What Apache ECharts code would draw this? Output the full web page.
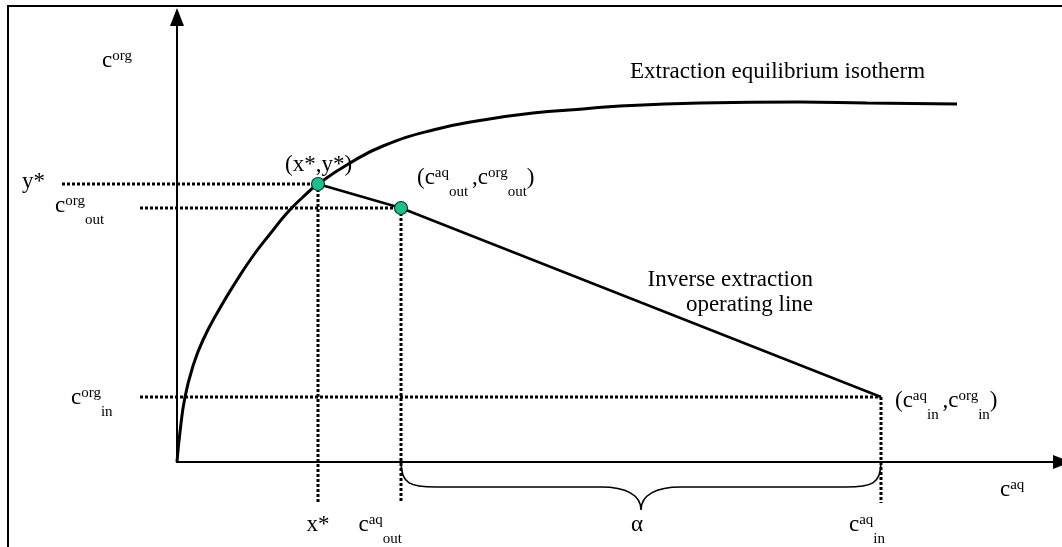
<!DOCTYPE html>
<html><head><meta charset="utf-8">
<script src="https://cdn.jsdelivr.net/npm/echarts@6/dist/echarts.min.js"></script>
<style>html,body{margin:0;padding:0;background:#fff}#c{width:1062px;height:547px}</style>
</head><body><div id="c"></div>
<script>
// ---------- data (schematic units) ----------
const isothermAq  = [0, 3, 8, 16, 26, 43, 60, 76, 93, 110, 126, 141, 173, 206, 256, 306, 356, 406, 443, 523, 623, 690, 780];
const isothermOrg = [0, 30, 65, 96, 122, 154, 182, 206, 228, 249, 265, 278, 299, 316, 332, 342, 349, 353, 356, 359, 360, 359, 358];
const operatingAq  = [141, 224, 704];   // x*, c_aq_out, c_aq_in
const operatingOrg = [278, 254, 65];    // y*, c_org_out, c_org_in
const guideLeftEnd = [-115, -37, -37];  // where the dotted horizontal guides start
const guideBottomEnd = -41;             // where the dotted vertical guides end
const axisRange = [885, 445];           // x max, y max
// ---------- texts ----------
const axisNames   = ['c{sup|org}', 'c{sup|aq}'];
const leftLabels  = ['y*', 'c{sup|org}{sub|out}', 'c{sup|org}{sub|in}'];
const bottomLabels = ['x*', 'c{sup|aq}{sub|out}', 'α', 'c{sup|aq}{sub|in}'];
const pointLabels = ['(x*,y*)', '(c{sup|aq}{sub|out },c{sup|org}{sub|out})', '(c{sup|aq}{sub|in },c{sup|org}{sub|in})'];
const curveNames  = ['Extraction equilibrium isotherm', 'Inverse extraction\noperating line'];

const FONT = '"Liberation Serif", "Times New Roman", serif';
const xStar = operatingAq[0], yStar = operatingOrg[0];
const cOutAq = operatingAq[1], cOutOrg = operatingOrg[1];
const cInAq = operatingAq[2], cInOrg = operatingOrg[2];

const chart = echarts.init(document.getElementById('c'), null, {renderer: 'canvas'});

// dotted guide segments [x1, y1, x2, y2] built from the key points
const guideRows = [];
for (let i = 0; i < 3; i++) {
  guideRows.push([guideLeftEnd[i], operatingOrg[i], operatingAq[i], operatingOrg[i]]);
  guideRows.push([operatingAq[i], operatingOrg[i], operatingAq[i], guideBottomEnd]);
}

const option = {
  animation: false,
  backgroundColor: '#fff',
  grid: {left: 177, right: 0, top: 17, bottom: 85},
  xAxis: {
    type: 'value', min: 0, max: axisRange[0],
    axisLine: {show: true, onZero: true, symbol: ['none', 'triangle'], symbolSize: [14, 18],
      lineStyle: {color: '#000', width: 2}},
    axisTick: {show: false}, axisLabel: {show: false}, splitLine: {show: false}
  },
  yAxis: {
    type: 'value', min: 0, max: axisRange[1],
    axisLine: {show: true, onZero: true, symbol: ['none', 'triangle'], symbolSize: [14, 18],
      lineStyle: {color: '#000', width: 2}},
    axisTick: {show: false}, axisLabel: {show: false}, splitLine: {show: false}
  },
  series: [
    {
      name: curveNames[0], type: 'line', silent: true, symbol: 'none', smooth: 0.5, z: 2,
      lineStyle: {color: '#000', width: 3},
      data: isothermAq.map((x, i) => [x, isothermOrg[i]])
    },
    {
      name: curveNames[1], type: 'line', silent: true, symbol: 'none', z: 2,
      lineStyle: {color: '#000', width: 2.5},
      data: operatingAq.map((x, i) => [x, operatingOrg[i]])
    },
    {
      type: 'custom', silent: true, clip: false, z: 3,
      encode: {x: [0, 2], y: [1, 3]},
      data: guideRows,
      renderItem: function (params, api) {
        const a = api.coord([api.value(0), api.value(1)]);
        const b = api.coord([api.value(2), api.value(3)]);
        return {
          type: 'line',
          shape: {x1: Math.round(a[0]), y1: Math.round(a[1]), x2: Math.round(b[0]), y2: Math.round(b[1])},
          style: {stroke: '#000', lineWidth: 3, lineDash: [3, 2], lineCap: 'butt'}
        };
      }
    },
    {
      type: 'custom', silent: true, clip: false, z: 2,
      encode: {x: [0, 1]},
      data: [[cOutAq, cInAq]],
      renderItem: function (params, api) {
        const p0 = api.coord([api.value(0), 0]);
        const p1 = api.coord([api.value(1), 0]);
        const x0 = p0[0], y0 = p0[1], x1 = p1[0], xm = (x0 + x1) / 2;
        const d1 = 25, d2 = 48;
        const path = 'M' + x0 + ',' + y0 +
          ' C' + x0 + ',' + (y0 + d1 * 0.9) + ' ' + (x0 + 10) + ',' + (y0 + d1) + ' ' + (x0 + 35) + ',' + (y0 + d1) +
          ' L' + (xm - 40) + ',' + (y0 + d1) +
          ' C' + (xm - 15) + ',' + (y0 + d1) + ' ' + xm + ',' + (y0 + d1 + 8) + ' ' + xm + ',' + (y0 + d2) +
          ' C' + xm + ',' + (y0 + d1 + 8) + ' ' + (xm + 15) + ',' + (y0 + d1) + ' ' + (xm + 40) + ',' + (y0 + d1) +
          ' L' + (x1 - 35) + ',' + (y0 + d1) +
          ' C' + (x1 - 10) + ',' + (y0 + d1) + ' ' + x1 + ',' + (y0 + d1 * 0.9) + ' ' + x1 + ',' + y0;
        return {type: 'path', shape: {pathData: path}, style: {fill: 'none', stroke: '#000', lineWidth: 1.6}};
      }
    },
    {
      type: 'scatter', silent: true, z: 5, symbolSize: 13,
      itemStyle: {color: '#1DBF8E', borderColor: '#0d3b2b', borderWidth: 1.2, opacity: 1},
      data: [[xStar, yStar], [cOutAq, cOutOrg]]
    }
  ]
};
chart.setOption(option);

// ---------- text annotations, anchored through the chart's own scales ----------
const rich = {
  sup: {fontSize: 15, fontFamily: FONT, fill: '#000', verticalAlign: 'top', padding: [9, 0, 0, 0]},
  sub: {fontSize: 15, fontFamily: FONT, fill: '#000', verticalAlign: 'bottom'}
};
function txt(text, at, off, align, lineHeight) {
  const p = chart.convertToPixel({gridIndex: 0}, at);
  return {
    type: 'text', silent: true, z: 10,
    x: p[0] + off[0], y: p[1] + off[1],
    style: {
      text: text, fill: '#000', fontSize: 23, fontFamily: FONT,
      lineHeight: lineHeight || 43, align: align, verticalAlign: 'middle', rich: rich
    }
  };
}
const graphics = [
  {type: 'rect', silent: true, z: -10, shape: {x: 8, y: 6, width: 1200, height: 700},
   style: {fill: 'none', stroke: '#000', lineWidth: 2}},
  txt(axisNames[0], [0, axisRange[1]], [-75, 44], 'left'),
  txt(axisNames[1], [axisRange[0], 0], [-62, 28], 'left'),
  txt(leftLabels[0], [0, yStar], [-155, -2], 'left'),
  txt(leftLabels[1], [0, cOutOrg], [-122, -2], 'left'),
  txt(leftLabels[2], [0, cInOrg], [-106, 1], 'left'),
  txt(bottomLabels[0], [xStar, 0], [0, 63], 'center'),
  txt(bottomLabels[1], [cOutAq, 0], [1, 63], 'right'),
  txt(bottomLabels[2], [(cOutAq + cInAq) / 2, 0], [-4, 63], 'center'),
  txt(bottomLabels[3], [cInAq, 0], [4, 63], 'right'),
  txt(pointLabels[0], [xStar, yStar], [-33, -19], 'left'),
  txt(pointLabels[1], [cOutAq, cOutOrg], [16, -30], 'left'),
  txt(pointLabels[2], [cInAq, cInOrg], [14, 4], 'left'),
  txt(curveNames[0], [isothermAq[20], isothermOrg[20]], [-170, -30], 'left'),
  txt(curveNames[1], [cInAq, cInOrg], [-68, -105], 'right', 25)
];
chart.setOption({graphic: graphics});
</script>
</body></html>
